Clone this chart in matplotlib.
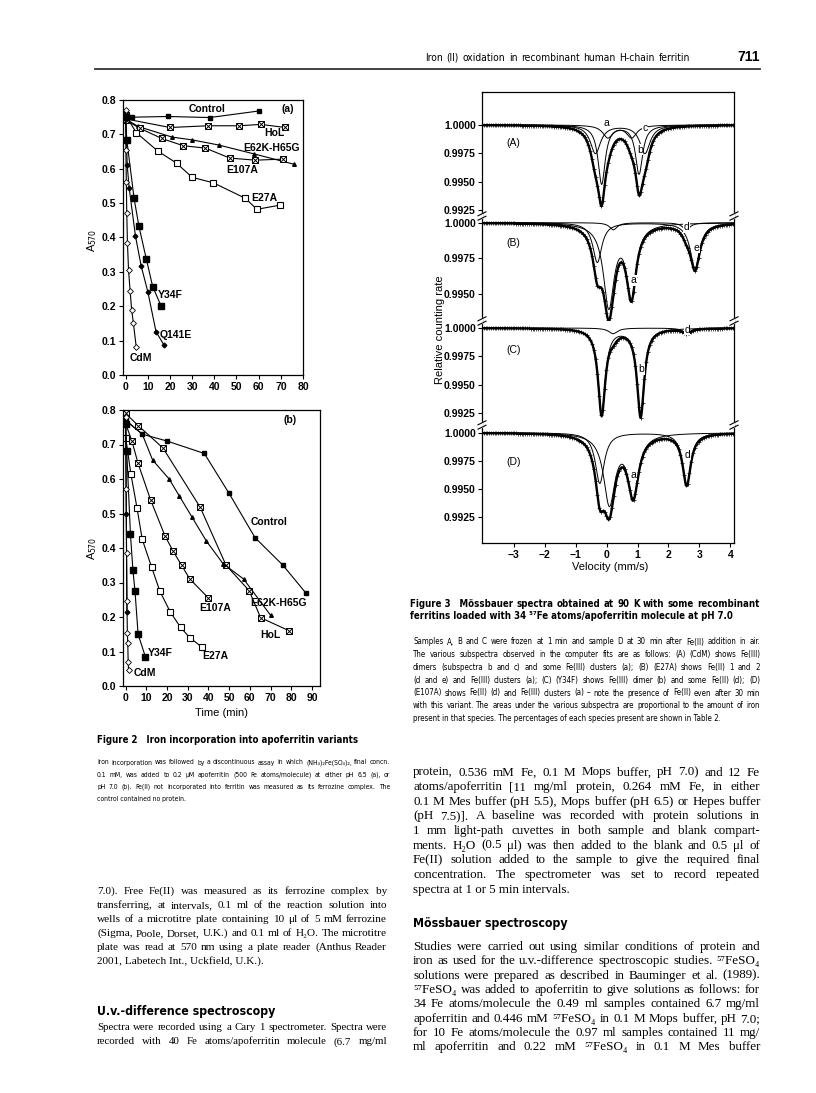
import matplotlib
matplotlib.use("Agg")
import matplotlib.pyplot as plt
import numpy as np
from matplotlib import font_manager
from matplotlib.lines import Line2D

W, H = 816, 1093

# pick a narrow sans for captions if one is installed
_fonts = font_manager.fontManager.ttflist
if any(f.name == "Liberation Sans Narrow" for f in _fonts):
    NARROW = {"family": ["Liberation Sans Narrow", "DejaVu Sans"]}
elif any(f.name == "DejaVu Sans" and "condensed" in str(f.stretch) for f in _fonts):
    NARROW = {"family": ["DejaVu Sans"], "stretch": "condensed"}
else:
    NARROW = {"family": ["Liberation Sans", "DejaVu Sans"]}
SERIF = {"family": ["Liberation Serif", "DejaVu Serif"]}
SANS = ["Liberation Sans", "DejaVu Sans"]

# ---------------- Figure 2 (a) pH 6.5 ----------------
A_CONTROL_T = [0, 3, 19, 38, 60]
A_CONTROL = [0.745, 0.750, 0.752, 0.749, 0.768]
A_HOL_T = [0, 20, 37, 51, 61, 72]
A_HOL = [0.745, 0.720, 0.725, 0.725, 0.729, 0.720]
A_E62K_T = [0, 5.6, 21, 30, 42, 58, 76]
A_E62K = [0.745, 0.723, 0.692, 0.684, 0.669, 0.643, 0.613]
A_E107A_T = [0, 6.3, 16.3, 26, 36, 47, 58.5, 71]
A_E107A = [0.742, 0.718, 0.688, 0.667, 0.660, 0.631, 0.625, 0.628]
A_E27A_T = [0, 4.8, 14.4, 23, 30, 39.6, 54, 59.2, 69.5]
A_E27A = [0.755, 0.705, 0.652, 0.616, 0.575, 0.559, 0.514, 0.482, 0.494]
A_Y34F_T = [0, 0.5, 3.8, 6, 9.3, 12.2, 15.9]
A_Y34F = [0.75, 0.684, 0.514, 0.432, 0.338, 0.257, 0.202]
A_Q141E_T = [0, 0.7, 1.6, 4.4, 7, 10, 13.7, 17.3]
A_Q141E = [0.76, 0.61, 0.543, 0.405, 0.317, 0.242, 0.126, 0.087]
A_CDM_T = [0, 0.1, 0.3, 0.5, 0.8, 1.3, 2.0, 2.7, 3.5, 4.8]
A_CDM = [0.77, 0.655, 0.56, 0.47, 0.385, 0.305, 0.245, 0.19, 0.15, 0.08]

# ---------------- Figure 2 (b) pH 7.0 ----------------
B_CONTROL_T = [0, 8, 20, 38, 50, 62.5, 76, 87]
B_CONTROL = [0.77, 0.73, 0.71, 0.674, 0.558, 0.43, 0.35, 0.27]
B_HOL_T = [0, 6, 18, 36, 48.5, 59.7, 65.2, 79]
B_HOL = [0.79, 0.755, 0.69, 0.518, 0.35, 0.276, 0.198, 0.16]
B_E62K_T = [0, 8, 13, 21, 26, 32, 39, 47, 57, 70]
B_E62K = [0.77, 0.73, 0.655, 0.60, 0.55, 0.49, 0.42, 0.355, 0.31, 0.205]
B_E107A_T = [0, 3, 6, 12, 19, 23, 27, 31, 40]
B_E107A = [0.76, 0.71, 0.645, 0.54, 0.435, 0.39, 0.35, 0.31, 0.255]
B_E27A_T = [0, 2.5, 5.5, 8, 12.5, 16.5, 21.5, 26.5, 31, 37]
B_E27A = [0.72, 0.615, 0.515, 0.425, 0.345, 0.275, 0.215, 0.17, 0.14, 0.112]
B_Y34F_T = [0, 0.5, 2.3, 3.5, 4.5, 6, 9.5]
B_Y34F = [0.76, 0.68, 0.44, 0.335, 0.275, 0.15, 0.085]
B_Q141E_T = [0, 0.3, 0.6]
B_Q141E = [0.76, 0.50, 0.215]
B_CDM_T = [0, 0.2, 0.4, 0.6, 0.8, 1.0, 1.2, 1.4]
B_CDM = [0.78, 0.57, 0.385, 0.245, 0.155, 0.125, 0.07, 0.045]

# ---------------- Figure 3 Mossbauer subspectra: (centre mm/s, depth, fwhm) ----------------
MB_A = {
    "a": [(0.04, 0.0011, 0.40), (0.81, 0.0011, 0.40)],
    "b": [(-0.16, 0.0052, 0.28), (1.05, 0.0043, 0.28)],
    "c": [(-0.36, 0.0025, 0.40), (1.24, 0.0025, 0.40)],
}
MB_B = {
    "a": [(0.07, 0.0058, 0.42), (0.80, 0.0050, 0.38)],
    "e": [(-0.30, 0.0028, 0.35), (2.86, 0.0032, 0.38)],
    "d": [(0.22, 0.0005, 0.30), (2.58, 0.0005, 0.30)],
}
MB_C = {
    "b": [(-0.16, 0.0076, 0.28), (1.10, 0.0078, 0.28)],
    "d": [(0.21, 0.0005, 0.35), (2.59, 0.0004, 0.35)],
}
MB_D = {
    "d": [(-0.22, 0.0045, 0.35), (2.59, 0.0046, 0.32)],
    "a": [(0.09, 0.0062, 0.45), (0.86, 0.0054, 0.42)],
}


def rect(x0, y0, x1, y1):
    return [x0 / W, 1 - y1 / H, (x1 - x0) / W, (y1 - y0) / H]


def lorentz_lines(v, lines):
    out = np.zeros_like(v)
    for c, d, fw in lines:
        out += d / (1 + ((v - c) / (fw / 2)) ** 2)
    return out


fig = plt.figure(figsize=(W / 100, H / 100), dpi=100)
fig.patch.set_facecolor("white")
renderer = fig.canvas.get_renderer()


def measure(s, fs, fk, weight):
    t = fig.text(0, 0, s, fontsize=fs, weight=weight, **fk)
    w = t.get_window_extent(renderer).width
    t.remove()
    return w


def put(s, x, y, fs, fk, weight="normal", ha="left"):
    fig.text(x / W, 1 - y / H, s, fontsize=fs, weight=weight, va="baseline", ha=ha, **fk)


def justify(s, x0, x1, y, fs, fk, weight="normal"):
    words = s.split(" ")
    widths = [measure(w, fs, fk, weight) for w in words]
    gap = (x1 - x0 - sum(widths)) / max(len(words) - 1, 1)
    x = x0
    for w, wd in zip(words, widths):
        put(w, x, y, fs, fk, weight)
        x += wd + gap


def fit_size(lines, width, fs, fk, weight="normal"):
    widest = max(measure(s, fs, fk, weight) for s in lines)
    return fs * min(1.0, 0.985 * width / widest)


def block(lines, x0, x1, y0, dy, fs, fk, last_left=True, weight="normal"):
    fs = fit_size(lines, x1 - x0, fs, fk, weight)
    for i, s in enumerate(lines):
        y = y0 + i * dy
        if i == len(lines) - 1 and last_left:
            put(s, x0, y, fs, fk, weight)
        else:
            justify(s, x0, x1, y, fs, fk, weight)
    return fs


# ---------------- page header ----------------
block(["Iron (II) oxidation in recombinant human H-chain ferritin"], 425, 690, 61, 0, 9.5,
      NARROW, last_left=False)
put("711", 760, 61, 10, {"family": SANS}, weight="bold", ha="right")
fig.add_artist(Line2D([95 / W, 760 / W], [1 - 69 / H, 1 - 69 / H], color="#333333", lw=1.3))


# ---------------- Figure 2 panels ----------------
def crossed(ax, t, a):
    ax.plot(t, a, color="k", lw=0.8, marker="s", ms=5, mfc="white", mec="k", mew=0.7)
    ax.plot(t, a, ls="none", marker="x", ms=4, mec="k", mew=0.7)


def fig2_panel(ax, data, xlim, xticks, labels):
    (ct, c), (ht, h), (et, e), (e1t, e1), (e2t, e2), (yt, y), (qt, q), (dt, d) = data
    ax.plot(ct, c, color="k", lw=0.8, marker="s", ms=3.2, mfc="k", mec="k")
    crossed(ax, ht, h)
    ax.plot(et, e, color="k", lw=0.8, marker="^", ms=2.6, mfc="k", mec="k")
    crossed(ax, e1t, e1)
    ax.plot(e2t, e2, color="k", lw=0.8, marker="s", ms=5, mfc="white", mec="k", mew=0.8)
    ax.plot(yt, y, color="k", lw=0.8, marker="s", ms=4.2, mfc="k", mec="k")
    ax.plot(qt, q, color="k", lw=0.8, marker="D", ms=2.4, mfc="k", mec="k")
    ax.plot(dt, d, color="k", lw=0.8, marker="D", ms=3, mfc="white", mec="k", mew=0.6)
    ax.set_xlim(*xlim)
    ax.set_ylim(0, 0.8)
    ax.set_yticks(np.arange(0, 0.81, 0.1))
    ax.set_yticklabels([f"{v:.1f}" for v in np.arange(0, 0.81, 0.1)])
    ax.set_xticks(xticks)
    ax.tick_params(direction="out", length=3, width=0.8, labelsize=7.5, pad=2)
    for lab in ax.get_xticklabels() + ax.get_yticklabels():
        lab.set_fontweight("bold")
        lab.set_family(SANS)
    for sp in ax.spines.values():
        sp.set_linewidth(0.9)
    for s, x, yv in labels:
        ax.text(x, yv, s, fontsize=7.5, family=SANS, weight="bold", ha="center", va="center")


axa = fig.add_axes(rect(123, 100, 303, 375))
fig2_panel(axa,
           [(A_CONTROL_T, A_CONTROL), (A_HOL_T, A_HOL), (A_E62K_T, A_E62K), (A_E107A_T, A_E107A),
            (A_E27A_T, A_E27A), (A_Y34F_T, A_Y34F), (A_Q141E_T, A_Q141E), (A_CDM_T, A_CDM)],
           (-1.2, 78.1), range(0, 81, 10),
           [("Control", 36.8, 0.773), ("(a)", 73.2, 0.774), ("HoL", 67.1, 0.704),
            ("E62K-H65G", 65.8, 0.660), ("E107A", 52.6, 0.596), ("E27A", 62.7, 0.515),
            ("Y34F", 20.3, 0.233), ("Q141E", 22.5, 0.116), ("CdM", 7.0, 0.050)])

axb = fig.add_axes(rect(123, 410, 320, 686))
fig2_panel(axb,
           [(B_CONTROL_T, B_CONTROL), (B_HOL_T, B_HOL), (B_E62K_T, B_E62K), (B_E107A_T, B_E107A),
            (B_E27A_T, B_E27A), (B_Y34F_T, B_Y34F), (B_Q141E_T, B_Q141E), (B_CDM_T, B_CDM)],
           (-1.3, 93.9), range(0, 91, 10),
           [("(b)", 79.4, 0.771), ("Control", 69.4, 0.476), ("E62K-H65G", 73.7, 0.24),
            ("HoL", 69.7, 0.148), ("E107A", 43.1, 0.225), ("E27A", 43.1, 0.087),
            ("Y34F", 16.6, 0.095), ("CdM", 9.3, 0.039)])

for yc in (240, 548):
    fig.text(92 / W, 1 - yc / H, "A$_{570}$", rotation=90, fontsize=8, family=SANS,
             ha="center", va="center")
fig.text(222 / W, 1 - 716 / H, "Time (min)", fontsize=8, family=SANS, ha="center", va="baseline")


# ---------------- Figure 3 Mossbauer spectra ----------------
V = np.linspace(-4.03, 4.12, 420)
PANELS = [
    ("(A)", MB_A, (92, 216), (0.99197, 1.00290), [1.0, 0.9975, 0.995, 0.9925],
     {"a": (0.0, 1.00014), "c": (1.24, 0.99975), "b": (1.07, 0.99780)}, 143),
    ("(B)", MB_B, (216, 321), (0.99308, 1.00047), [1.0, 0.9975, 0.995],
     {"d": (2.58, 0.99968), "e": (2.90, 0.99823), "a": (0.86, 0.99596)}, 243),
    ("(C)", MB_C, (321, 425), (0.99144, 1.00062), [1.0, 0.9975, 0.995, 0.9925],
     {"d": (2.60, 0.99984), "b": (1.13, 0.99635)}, 350),
    ("(D)", MB_D, (425, 543), (0.99020, 1.00068), [1.0, 0.9975, 0.995, 0.9925],
     {"d": (2.62, 0.99805), "a": (0.86, 0.99627)}, 462),
]

for i, (tag, comps, (yt, yb), ylim, ticks, labs, ytag) in enumerate(PANELS):
    ax = fig.add_axes(rect(482, yt, 734, yb))
    total = np.ones_like(V)
    for lines_ in comps.values():
        total -= lorentz_lines(V, lines_)
    ax.plot(V, total, color="k", lw=1.7)
    ax.plot(V, total, ls="none", marker="+", ms=3.2, mew=0.5, color="k", markevery=3)
    for lines_ in comps.values():
        ax.plot(V, 1 - lorentz_lines(V, lines_), color="k", lw=0.7)
    ax.plot(V, total, color="k", lw=0.7)
    for s, (xv, yv) in labs.items():
        ax.text(xv, yv, s, fontsize=7.5, family=SANS, ha="center", va="center",
                bbox=dict(boxstyle="square,pad=0.05", fc="white", ec="none"))
    ax.set_xlim(-4.03, 4.12)
    ax.set_ylim(*ylim)
    ax.set_yticks(ticks)
    ax.set_yticklabels([f"{t:.4f}" for t in ticks])
    ax.tick_params(axis="y", direction="out", length=3, width=0.8, labelsize=7.5, pad=1.5)
    for lab in ax.get_yticklabels():
        lab.set_fontweight("bold")
        lab.set_family(SANS)
    for sp in ax.spines.values():
        sp.set_linewidth(0.9)
    if i > 0:
        ax.spines["top"].set_visible(False)
    if i < 3:
        ax.spines["bottom"].set_visible(False)
        ax.set_xticks([])
    else:
        ax.set_xticks(range(-3, 5))
        ax.set_xticklabels(["\u22123", "\u22122", "\u22121", "0", "1", "2", "3", "4"])
        ax.tick_params(axis="x", direction="out", length=3, width=0.8, labelsize=7.5, pad=2)
        for lab in ax.get_xticklabels():
            lab.set_fontweight("bold")
            lab.set_family(SANS)
    fig.text(506 / W, 1 - ytag / H, tag, fontsize=7.5, family=SANS, va="center", ha="left")

# axis break marks between stacked spectra
for yj in (216, 321, 425):
    for xs in (482, 734):
        fig.add_artist(Line2D([xs / W, xs / W], [1 - (yj - 2) / H, 1 - (yj + 2) / H],
                              color="white", lw=1.6))
        for off in (-2.2, 2.2):
            fig.add_artist(Line2D([(xs - 4) / W, (xs + 4) / W],
                                  [1 - (yj + off + 2) / H, 1 - (yj + off - 2) / H],
                                  color="k", lw=0.8))

fig.text(440 / W, 1 - 330 / H, "Relative counting rate", rotation=90, fontsize=8,
         family=SANS, ha="center", va="center")
fig.text(610 / W, 1 - 570 / H, "Velocity (mm/s)", fontsize=8, family=SANS,
         ha="center", va="baseline")

# ---------------- Figure 3 legend text ----------------
fs3 = block(["Figure\u00a03\u00a0\u00a0\u00a0M\u00f6ssbauer spectra obtained at 90 K with some recombinant"],
            410, 760, 607, 0, 8.6, NARROW, last_left=False, weight="bold")
put("ferritins loaded with 34 \u2075\u2077Fe atoms/apoferritin molecule at pH 7.0", 410, 619, fs3,
    NARROW, weight="bold")
block([
    "Samples A, B and C were frozen at 1 min and sample D at 30 min after Fe(II) addition in air.",
    "The various subspectra observed in the computer fits are as follows: (A) (CdM) shows Fe(III)",
    "dimers (subspectra b and c) and some Fe(III) clusters (a); (B) (E27A) shows Fe(II) 1 and 2",
    "(d and e) and Fe(III) clusters (a); (C) (Y34F) shows Fe(III) dimer (b) and some Fe(II) (d); (D)",
    "(E107A) shows Fe(II) (d) and Fe(III) clusters (a) \u2013 note the presence of Fe(II) even after 30 min",
    "with this variant. The areas under the various subspectra are proportional to the amount of iron",
    "present in that species. The percentages of each species present are shown in Table 2.",
], 413, 760, 644.5, 12.75, 7.2, NARROW)

# ---------------- Figure 2 legend text ----------------
put("Figure\u00a02\u00a0\u00a0\u00a0Iron incorporation into apoferritin variants", 97, 743, fs3,
    NARROW, weight="bold")
block([
    "Iron incorporation was followed by a discontinuous assay in which (NH\u2084)\u2082Fe(SO\u2084)\u2082, final concn.",
    "0.1 mM, was added to 0.2 \u03bcM apoferritin (500 Fe atoms/molecule) at either pH 6.5 (a), or",
    "pH 7.0 (b). Fe(II) not incorporated into ferritin was measured as its ferrozine complex. The",
    "control contained no protein.",
], 97, 390, 764.5, 12.1, 7.2, NARROW)

# ---------------- body text, left column ----------------
fsl = block([
    "7.0). Free Fe(II) was measured as its ferrozine complex by",
    "transferring, at intervals, 0.1 ml of the reaction solution into",
    "wells of a microtitre plate containing 10 \u03bcl of 5 mM ferrozine",
    "(Sigma, Poole, Dorset, U.K.) and 0.1 ml of H\u2082O. The microtitre",
    "plate was read at 570 nm using a plate reader (Anthus Reader",
    "2001, Labetech Int., Uckfield, U.K.).",
], 97, 387, 894, 14.0, 10.5, SERIF)
put("U.v.-difference spectroscopy", 97, 1015, 8.8, NARROW, weight="bold")
block([
    "Spectra were recorded using a Cary 1 spectrometer. Spectra were",
    "recorded with 40 Fe atoms/apoferritin molecule (6.7 mg/ml",
], 97, 387, 1030.5, 14.0, fsl, SERIF, last_left=False)

# ---------------- body text, right column ----------------
fsr = block([
    "protein, 0.536 mM Fe, 0.1 M Mops buffer, pH 7.0) and 12 Fe",
    "atoms/apoferritin [11 mg/ml protein, 0.264 mM Fe, in either",
    "0.1 M Mes buffer (pH 5.5), Mops buffer (pH 6.5) or Hepes buffer",
    "(pH 7.5)]. A baseline was recorded with protein solutions in",
    "1 mm light-path cuvettes in both sample and blank compart-",
    "ments. H\u2082O (0.5 \u03bcl) was then added to the blank and 0.5 \u03bcl of",
    "Fe(II) solution added to the sample to give the required final",
    "concentration. The spectrometer was set to record repeated",
    "spectra at 1 or 5 min intervals.",
], 413, 760, 775.5, 14.65, 10.5, SERIF)
put("M\u00f6ssbauer spectroscopy", 413, 927, 8.8, NARROW, weight="bold")
block([
    "Studies were carried out using similar conditions of protein and",
    "iron as used for the u.v.-difference spectroscopic studies. \u2075\u2077FeSO\u2084",
    "solutions were prepared as described in Bauminger et al. (1989).",
    "\u2075\u2077FeSO\u2084 was added to apoferritin to give solutions as follows: for",
    "34 Fe atoms/molecule the 0.49 ml samples contained 6.7 mg/ml",
    "apoferritin and 0.446 mM \u2075\u2077FeSO\u2084 in 0.1 M Mops buffer, pH 7.0;",
    "for 10 Fe atoms/molecule the 0.97 ml samples contained 11 mg/",
    "ml apoferritin and 0.22 mM \u2075\u2077FeSO\u2084 in 0.1 M Mes buffer",
], 413, 760, 950, 14.35, fsr, SERIF, last_left=False)

fig.savefig("out.png", dpi=100)
